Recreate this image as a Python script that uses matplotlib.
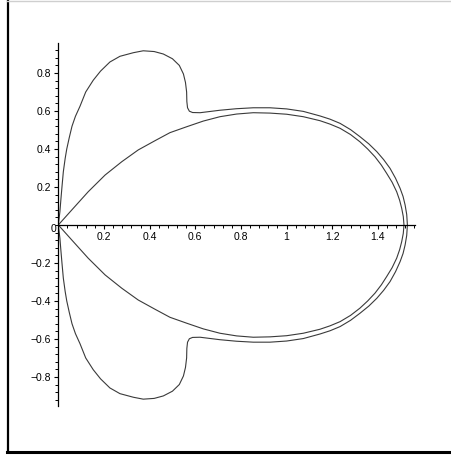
import numpy as np
import matplotlib
matplotlib.use("Agg")
import matplotlib.pyplot as plt
from matplotlib.lines import Line2D
from matplotlib.ticker import MultipleLocator

plt.rcParams['font.family'] = ['Liberation Sans', 'DejaVu Sans']

# outer curve, upper half, from origin round to the x axis
outer_x = [0.0, 0.003, 0.007, 0.011, 0.016, 0.022, 0.030, 0.037, 0.048, 0.060,
           0.075, 0.095, 0.120, 0.153, 0.185, 0.226, 0.270, 0.329, 0.372, 0.420,
           0.460, 0.500, 0.530, 0.548, 0.557, 0.562, 0.563, 0.566, 0.574, 0.588,
           0.621, 0.708, 0.780, 0.854, 0.927, 1.0, 1.073, 1.146, 1.190, 1.234,
           1.280, 1.321, 1.360, 1.395, 1.425, 1.453, 1.477, 1.497, 1.510, 1.519,
           1.526, 1.529]
outer_y = [0.0, 0.030, 0.070, 0.130, 0.200, 0.280, 0.350, 0.400, 0.460, 0.520,
           0.572, 0.625, 0.700, 0.762, 0.810, 0.858, 0.888, 0.907, 0.917, 0.913,
           0.900, 0.875, 0.840, 0.795, 0.750, 0.700, 0.650, 0.617, 0.599, 0.592,
           0.591, 0.604, 0.612, 0.617, 0.617, 0.611, 0.598, 0.574, 0.557, 0.535,
           0.502, 0.465, 0.427, 0.386, 0.344, 0.298, 0.246, 0.193, 0.150, 0.105,
           0.055, 0.0]

# inner curve, upper half
inner_x = [0.0, 0.059, 0.131, 0.205, 0.278, 0.350, 0.424, 0.489, 0.562, 0.635,
           0.708, 0.781, 0.854, 0.927, 1.0, 1.073, 1.146, 1.190, 1.234, 1.280,
           1.321, 1.355, 1.387, 1.415, 1.438, 1.462, 1.482, 1.495, 1.504, 1.511,
           1.514]
inner_y = [0.0, 0.079, 0.175, 0.263, 0.333, 0.395, 0.444, 0.486, 0.517, 0.547,
           0.570, 0.584, 0.591, 0.589, 0.583, 0.570, 0.549, 0.531, 0.509, 0.476,
           0.438, 0.400, 0.359, 0.315, 0.272, 0.225, 0.175, 0.130, 0.088, 0.044,
           0.0]

xticks = [0.2, 0.4, 0.6, 0.8, 1, 1.2, 1.4]
yticks = [-0.8, -0.6, -0.4, -0.2, 0.2, 0.4, 0.6, 0.8]


def closed(xs, ys):
    # the picture is symmetric about the x axis
    xs = np.array(xs)
    ys = np.array(ys)
    return (np.concatenate([xs, xs[::-1][1:]]),
            np.concatenate([ys, -ys[::-1][1:]]))


fig = plt.figure(figsize=(4.52, 4.55), dpi=100)
ax = fig.add_axes([0.129, 0.1077, 0.789, 0.7978])

for xs, ys in [(outer_x, outer_y), (inner_x, inner_y)]:
    cx, cy = closed(xs, ys)
    ax.plot(cx, cy, color='#3a3a3a', lw=0.8)

ax.set_xlim(0, 1.562)
ax.set_ylim(-0.953, 0.958)

for side in ['top', 'right']:
    ax.spines[side].set_visible(False)
ax.spines['left'].set_position(('data', 0))
ax.spines['bottom'].set_position(('data', 0))
ax.spines['left'].set_linewidth(0.9)
ax.spines['bottom'].set_linewidth(0.9)

ax.set_xticks(xticks)
ax.set_xticklabels([f'{t:g}' for t in xticks])
ax.set_yticks(yticks)
ax.set_yticklabels([f'{t:g}'.replace('-', '\u2212') for t in yticks])
ax.xaxis.set_minor_locator(MultipleLocator(0.04))
ax.yaxis.set_minor_locator(MultipleLocator(0.04))
ax.tick_params(which='major', direction='out', length=3, width=0.8,
               labelsize=7.5, pad=2, colors='black')
ax.tick_params(which='minor', direction='out', length=2, width=0.7)
ax.text(-0.01, -0.02, '0', ha='right', va='center', fontsize=7.5,
        transform=ax.transData, clip_on=False)

# outer frame: black on the left and bottom, light grey along the top
W, H = 452, 455
fig.add_artist(Line2D([7.5 / W, 7.5 / W], [3 / H, 1], color='black', lw=1.6))
fig.add_artist(Line2D([7 / W, 1], [3.5 / H, 3.5 / H], color='black', lw=2.2))
fig.add_artist(Line2D([7 / W, 1], [1 - 0.5 / H, 1 - 0.5 / H], color='#cfcfcf', lw=1))

fig.savefig('out.png', dpi=100)
